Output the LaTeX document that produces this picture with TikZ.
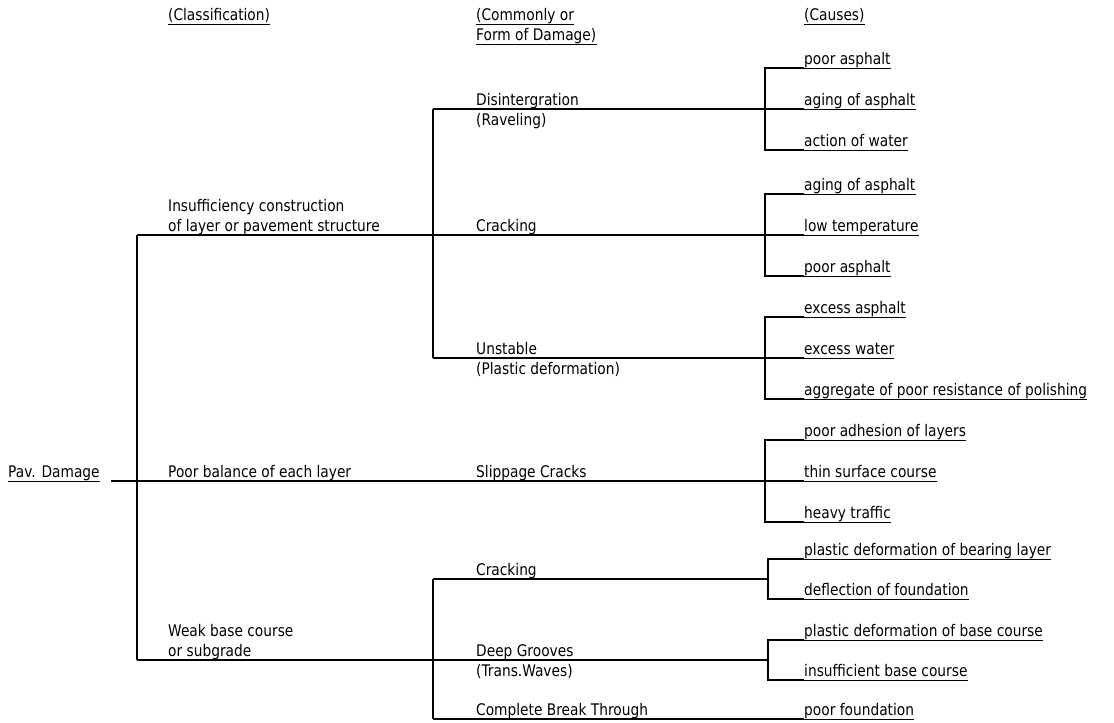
\documentclass[tikz,border=0pt]{standalone}
\usepackage{fontspec}
\setmainfont{DejaVu Sans}[FakeStretch=0.86]
\begin{document}
\begin{tikzpicture}[x=1pt,y=-1pt,
  every node/.style={font=\fontsize{16}{18}\selectfont, inner xsep=0pt, inner ysep=3.5pt,
    text depth=0pt, anchor=south west},
  link/.style={line width=1.2pt},
  uline/.style={line width=0.8pt}]
\useasboundingbox (0,0) rectangle (1114,723);

% column headings
\node (hcl)  at (168,24) {(Classification)};
\node (hco1) at (476,24) {(Commonly or};
\node (hco2) at (476,44) {Form of Damage)};
\node (hca)  at (804,24) {(Causes)};

% root and classification
\node (root)  at (8,481)   {Pav. Damage};
\node (ins1)  at (168,215) {Insufficiency construction};
\node (ins2)  at (168,235) {of layer or pavement structure};
\node (bal)   at (168,481) {Poor balance of each layer};
\node (weak1) at (168,640) {Weak base course};
\node (weak2) at (168,660) {or subgrade};

% forms of damage
\node (dis1) at (476,109) {Disintergration};
\node (dis2) at (476,129) {(Raveling)};
\node (crk)  at (476,235) {Cracking};
\node (uns1) at (476,358) {Unstable};
\node (uns2) at (476,378) {(Plastic deformation)};
\node (slp)  at (476,481) {Slippage Cracks};
\node (crk2) at (476,579) {Cracking};
\node (grv1) at (476,660) {Deep Grooves};
\node (grv2) at (476,680) {(Trans.Waves)};
\node (brk)  at (476,719) {Complete Break Through};

% causes
\node (c11) at (804,68)  {poor asphalt};
\node (c12) at (804,109) {aging of asphalt};
\node (c13) at (804,150) {action of water};
\node (c21) at (804,194) {aging of asphalt};
\node (c22) at (804,235) {low temperature};
\node (c23) at (804,276) {poor asphalt};
\node (c31) at (804,317) {excess asphalt};
\node (c32) at (804,358) {excess water};
\node (c33) at (804,399) {aggregate of poor resistance of polishing};
\node (c41) at (804,440) {poor adhesion of layers};
\node (c42) at (804,481) {thin surface course};
\node (c43) at (804,522) {heavy traffic};
\node (c51) at (804,559) {plastic deformation of bearing layer};
\node (c52) at (804,599) {deflection of foundation};
\node (c61) at (804,640) {plastic deformation of base course};
\node (c62) at (804,680) {insufficient base course};
\node (c7)  at (804,719) {poor foundation};

% junction points
\coordinate (rs) at (111,481);
\coordinate (s1) at (137,235);
\coordinate (s2) at (137,660);
\coordinate (k1) at (433,109);
\coordinate (k2) at (433,358);
\coordinate (m1) at (433,579);
\coordinate (m2) at (433,719);
\coordinate (b1) at (765,109);
\coordinate (b2) at (765,235);
\coordinate (b3) at (765,358);
\coordinate (b4) at (765,481);
\coordinate (f0) at (768,579);
\coordinate (g0) at (768,660);

% tree
\draw[link] (s1) -- (s2);
\draw[link] (s1) -- (c22.south west);
\draw[link] (rs) -- (c42.south west);
\draw[link] (s2) -- (g0);
\draw[link] (k1) -- (k2);
\draw[link] (k1) -- (c12.south west);
\draw[link] (k2) -- (c32.south west);
\draw[link] (m1) -- (m2);
\draw[link] (m1) -- (f0);
\draw[link] (m2) -- (c7.south west);

% brackets to the causes
\draw[link] (c11.south west) -| (b1) |- (c13.south west);
\draw[link] (c21.south west) -| (b2) |- (c23.south west);
\draw[link] (c31.south west) -| (b3) |- (c33.south west);
\draw[link] (c41.south west) -| (b4) |- (c43.south west);
\draw[link] (c51.south west) -| (f0) |- (c52.south west);
\draw[link] (c61.south west) -| (g0) |- (c62.south west);

% underlined texts
\foreach \n in {hcl,hco1,hco2,hca,root,c11,c12,c13,c21,c22,c23,c31,c32,c33,
                c41,c42,c43,c51,c52,c61,c62,c7}
  \draw[uline] (\n.south west) -- (\n.south east);
\end{tikzpicture}
\end{document}
